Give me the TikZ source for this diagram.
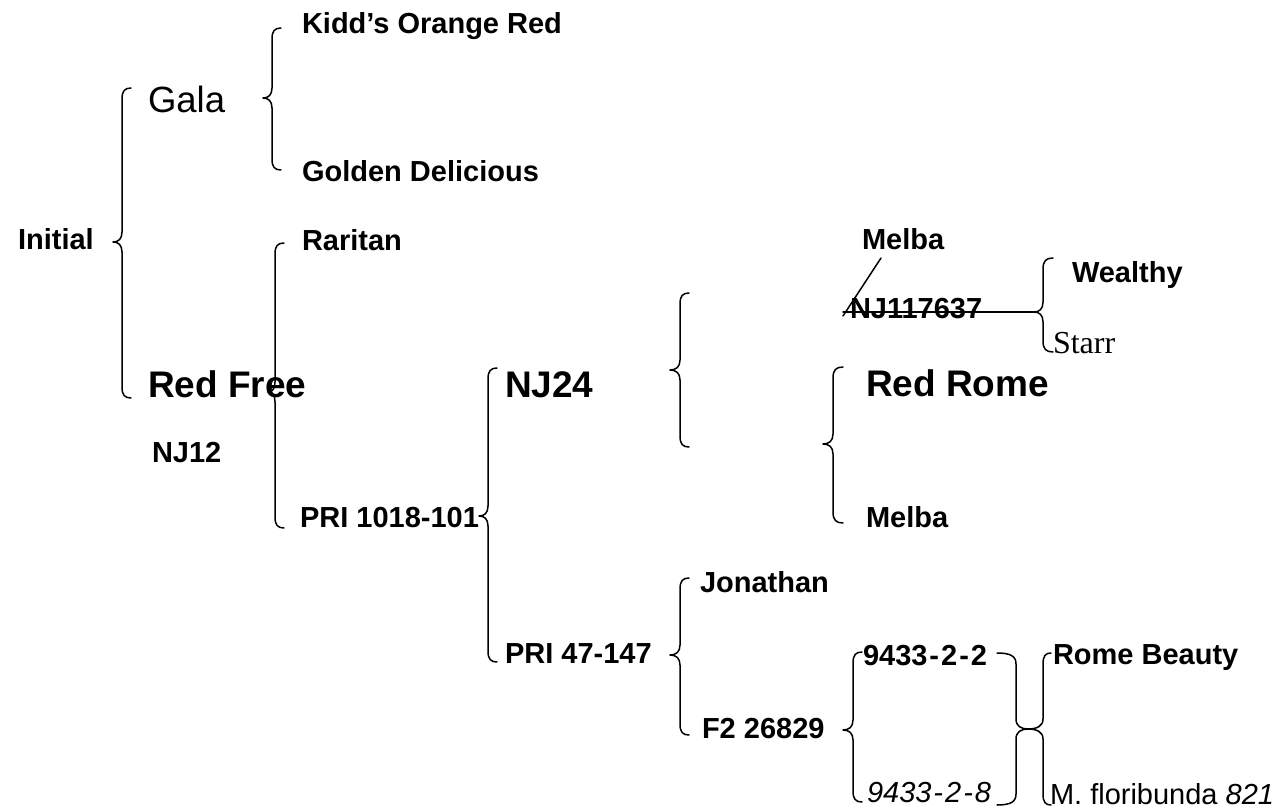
\documentclass[tikz,border=0pt]{standalone}
\usepackage{fontspec}
\setmainfont{Liberation Sans}
\newfontfamily\serifface{Liberation Serif}
\newcommand\hy{\kern2pt-\kern2pt}
% left brace: x, ytop, ymid, ybot, hook width, cusp width
\newcommand\LB[6]{%
  \draw[brace] (#1+#5,#2) .. controls (#1+0.3*#5,#2) and (#1,#2+3) .. (#1,#2+11)
    -- (#1,#3-10) .. controls (#1,#3-3) and (#1-0.4*#6,#3) .. (#1-#6,#3)
    .. controls (#1-0.4*#6,#3) and (#1,#3+3) .. (#1,#3+10)
    -- (#1,#4-11) .. controls (#1,#4-3) and (#1+0.3*#5,#4) .. (#1+#5,#4);}
\newcommand\RB[6]{%
  \draw[brace] (#1-#5,#2) .. controls (#1-0.3*#5,#2) and (#1,#2+3) .. (#1,#2+11)
    -- (#1,#3-10) .. controls (#1,#3-3) and (#1+0.4*#6,#3) .. (#1+#6,#3)
    .. controls (#1+0.4*#6,#3) and (#1,#3+3) .. (#1,#3+10)
    -- (#1,#4-11) .. controls (#1,#4-3) and (#1-0.3*#5,#4) .. (#1-#5,#4);}
\tikzset{
  brace/.style={line width=1.5pt, line cap=round, line join=round},
  lbl/.style={anchor=base west, inner sep=0pt, outer sep=0pt},
  sm/.style={lbl, font=\fontsize{29}{34}\selectfont\bfseries},
  bg/.style={lbl, font=\fontsize{37}{42}\selectfont\bfseries},
  bgr/.style={lbl, font=\fontsize{36.5}{42}\selectfont},
  rg/.style={lbl, font=\fontsize{29}{34}\selectfont},
  sf/.style={lbl, font=\fontsize{32}{36}\selectfont\serifface},
}
\begin{document}
\begin{tikzpicture}[x=1pt,y=-1pt]
\useasboundingbox (0,0) rectangle (1279,810);
% labels
\node[sm] (initial) at (18,250) {Initial};
\node[bgr] (gala) at (148,113) {Gala};
\node[sm] (kidd) at (302,34) {Kidd’s Orange Red};
\node[sm] (golden) at (302,182) {Golden Delicious};
\node[sm] (raritan) at (302,251) {Raritan};
\node[bg] (redfree) at (148,397) {Red Free};
\node[sm] (nj12) at (152,462) {NJ12};
\node[sm] (pri1018) at (300,527) {PRI 1018-101};
\node[bg] (nj24) at (505,397) {NJ24};
\node[sm] (pri47) at (505,663) {PRI 47-147};
\node[sm] (melbatop) at (862,250) {Melba};
\node[sm] (nj117) at (850,318) {NJ117637};
\node[sm] (wealthy) at (1072,283) {Wealthy};
\node[sf] (starr) at (1053,353) {Starr};
\node[bg] (redrome) at (866,396) {Red Rome};
\node[sm] (melba) at (866,527) {Melba};
\node[sm] (jonathan) at (700,592) {Jonathan};
\node[sm] (f2) at (702,738) {F2 26829};
\node[sm] (n22) at (863,665) {9433\hy2\hy2};
\node[rg] (n28) at (867,802) {\itshape 9433\hy2\hy8};
\node[sm] (rome) at (1053,664) {Rome Beauty};
\node[rg] (flor) at (1050,804) {M. floribunda \itshape 821};
% braces
\LB{122}{88}{242}{398}{9}{9}
\LB{272}{28}{98}{170}{9}{9}
\LB{275}{243}{392}{528}{9}{7}
\LB{488}{368}{516}{662}{9}{9}
\LB{680}{293}{370}{447}{9}{10}
\LB{833}{367}{444}{523}{10}{10}
\LB{1043}{258}{312}{352}{10}{9}
\LB{680}{578}{655}{735}{9}{10}
\LB{853}{652}{730}{802}{9}{10}
\RB{1016}{653}{729}{805}{19}{12}
\LB{1043}{653}{729}{805}{8}{15}
% strike lines
\coordinate (s1) at (881,258);
\coordinate (s2) at (843,316);
\coordinate (s3) at (843,312);
\coordinate (s4) at (1035,312);
\draw[brace] (s1) -- (s2);
\draw[brace] (s3) -- (s4);
\end{tikzpicture}
\end{document}
